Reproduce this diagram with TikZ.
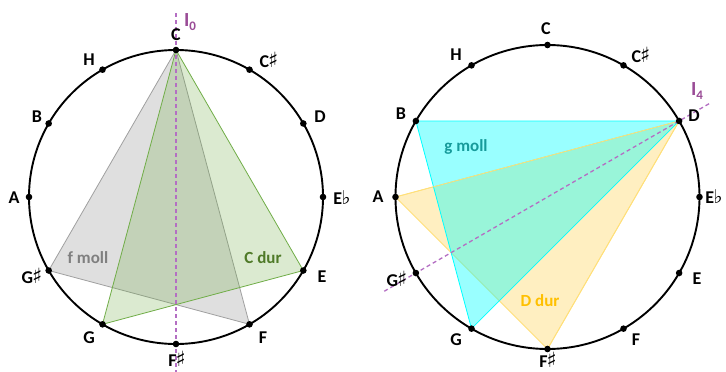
\documentclass[tikz,border=0pt]{standalone}
\usepackage{fontspec}
\setmainfont{Carlito}
\newfontfamily\symf{DejaVu Sans}
\usetikzlibrary{calc}
\definecolor{axiscol}{HTML}{B46EC3}
\definecolor{axislbl}{HTML}{9A4C96}
\definecolor{grayfill}{HTML}{A6A6A6}
\definecolor{grayedge}{HTML}{A0A0A0}
\definecolor{grayText}{HTML}{7F7F7F}
\definecolor{greenfill}{HTML}{70AD47}
\definecolor{greenText}{HTML}{4F7A28}
\definecolor{cyanfill}{HTML}{00FFFF}
\definecolor{cyanText}{HTML}{179B9B}
\definecolor{yellowfill}{HTML}{FFD966}
\definecolor{yellowedge}{HTML}{FFE07A}
\definecolor{goldText}{HTML}{FFC000}
\newcommand\shp{{\symf\fontsize{21}{21}\selectfont\kern-1pt♯}}
\newcommand\flt{{\symf\fontsize{19}{19}\selectfont\kern-0.5pt♭}}
\begin{document}
\begin{tikzpicture}[x=1pt,y=-1pt,
  lbl/.style={font=\fontsize{18}{20}\selectfont\bfseries, inner sep=0pt, text=black},
  tlbl/.style={font=\fontsize{17}{18}\selectfont\bfseries, inner sep=0pt},
  axlbl/.style={font=\fontsize{20}{22}\selectfont\bfseries, inner sep=0pt, text=axislbl},
  ring/.style={draw=black, line width=1.9pt},
  axisline/.style={draw=axiscol, line width=1.3pt, dash pattern=on 4pt off 3pt},
  notedot/.style={fill=black},
  grayTri/.style={fill=grayfill, fill opacity=0.35, draw=grayedge, line width=0.8pt, draw opacity=1},
  greenTri/.style={fill=greenfill, fill opacity=0.25, draw=greenfill, line width=0.8pt, draw opacity=1},
  cyanTri/.style={fill=cyanfill, fill opacity=0.4, draw=cyanfill, line width=0.8pt, draw opacity=1},
  yellowTri/.style={fill=yellowfill, fill opacity=0.4, draw=yellowedge, line width=0.8pt, draw opacity=1}
]
\useasboundingbox (0,0) rectangle (726,372);
\fill[white] (0,0) rectangle (726,372);

% note positions
\foreach \n [count=\i from 0] in {C,Cs,D,Eb,E,F,Fs,G,Gs,A,B,H} {
  \coordinate (L\n) at ({176+147*sin(30*\i)},{197-147*cos(30*\i)});
  \coordinate (R\n) at ({547.5+152*sin(30*\i)},{197-152*cos(30*\i)});
}
\coordinate (Lcen) at (176,197);
\coordinate (Rcen) at (547.5,197);

% left triangles
\path[grayTri] (LC) -- (LF) -- (LGs) -- cycle;
\path[greenTri] (LC) -- (LE) -- (LG) -- cycle;

% right triangles
\path[yellowTri] (RD) -- (RFs) -- (RA) -- cycle;
\path[cyanTri] (RD) -- (RG) -- (RB) -- cycle;
\draw[draw=yellowedge, line width=0.8pt] (RA) -- (RD) -- (RFs);

% circles
\draw[ring] (Lcen) circle (147);
\draw[ring] (Rcen) circle (152);

% axes
\coordinate (L0a) at ($(LC)!-0.125!(LFs)$);
\coordinate (L0b) at ($(LFs)!-0.12!(LC)$);
\draw[axisline] (L0a) -- (L0b);
\coordinate (R4a) at ($(RGs)!-0.12!(RD)$);
\coordinate (R4b) at ($(RD)!-0.115!(RGs)$);
\draw[axisline] (R4a) -- (R4b);

% dots
\foreach \n in {C,Cs,D,Eb,E,F,Fs,G,Gs,A,B,H} {
  \fill[notedot] (L\n) circle (3.3);
  \fill[notedot] (R\n) circle (3.3);
}

% left labels
\node[lbl] (tLC) at (176,35) {C};
\node[lbl] (tLH) at (89,60) {H};
\node[lbl] (tLCs) at (269,60) {C\shp};
\node[lbl] (tLB) at (37,117) {B};
\node[lbl] (tLD) at (320,117) {D};
\node[lbl] (tLA) at (14,198) {A};
\node[lbl] (tLEb) at (342,198) {E\flt};
\node[lbl] (tLGs) at (32,276) {G\shp};
\node[lbl] (tLE) at (322,277) {E};
\node[lbl] (tLG) at (89,338) {G};
\node[lbl] (tLF) at (263,338) {F};
\node[lbl] (tLFs) at (177,359) {F\shp};
\node[tlbl, text=grayText] (fmoll) at (88,258) {f moll};
\node[tlbl, text=greenText] (Cdur) at (263,258) {C dur};
\node[axlbl] (I0) at (190,22) {I\raisebox{-0.4ex}{\fontsize{13}{13}\selectfont 0}};

% right labels
\node[lbl] (tRC) at (546,29) {C};
\node[lbl] (tRH) at (456,55) {H};
\node[lbl] (tRCs) at (641,55) {C\shp};
\node[lbl] (tRB) at (401,114) {B};
\node[lbl] (tRD) at (694,116) {D};
\node[lbl] (tRA) at (378,197) {A};
\node[lbl] (tREb) at (714,197) {E\flt};
\node[lbl] (tRGs) at (397,279) {G\shp};
\node[lbl] (tRE) at (697,279) {E};
\node[lbl] (tRG) at (456,340) {G};
\node[lbl] (tRF) at (636,340) {F};
\node[lbl] (tRFs) at (548,360) {F\shp};
\node[tlbl, text=cyanText] (gmoll) at (466,147) {g moll};
\node[tlbl, text=goldText] (Ddur) at (540,301) {D dur};
\node[axlbl] (I4) at (697,91) {I\raisebox{-0.4ex}{\fontsize{13}{13}\selectfont 4}};
\end{tikzpicture}
\end{document}
